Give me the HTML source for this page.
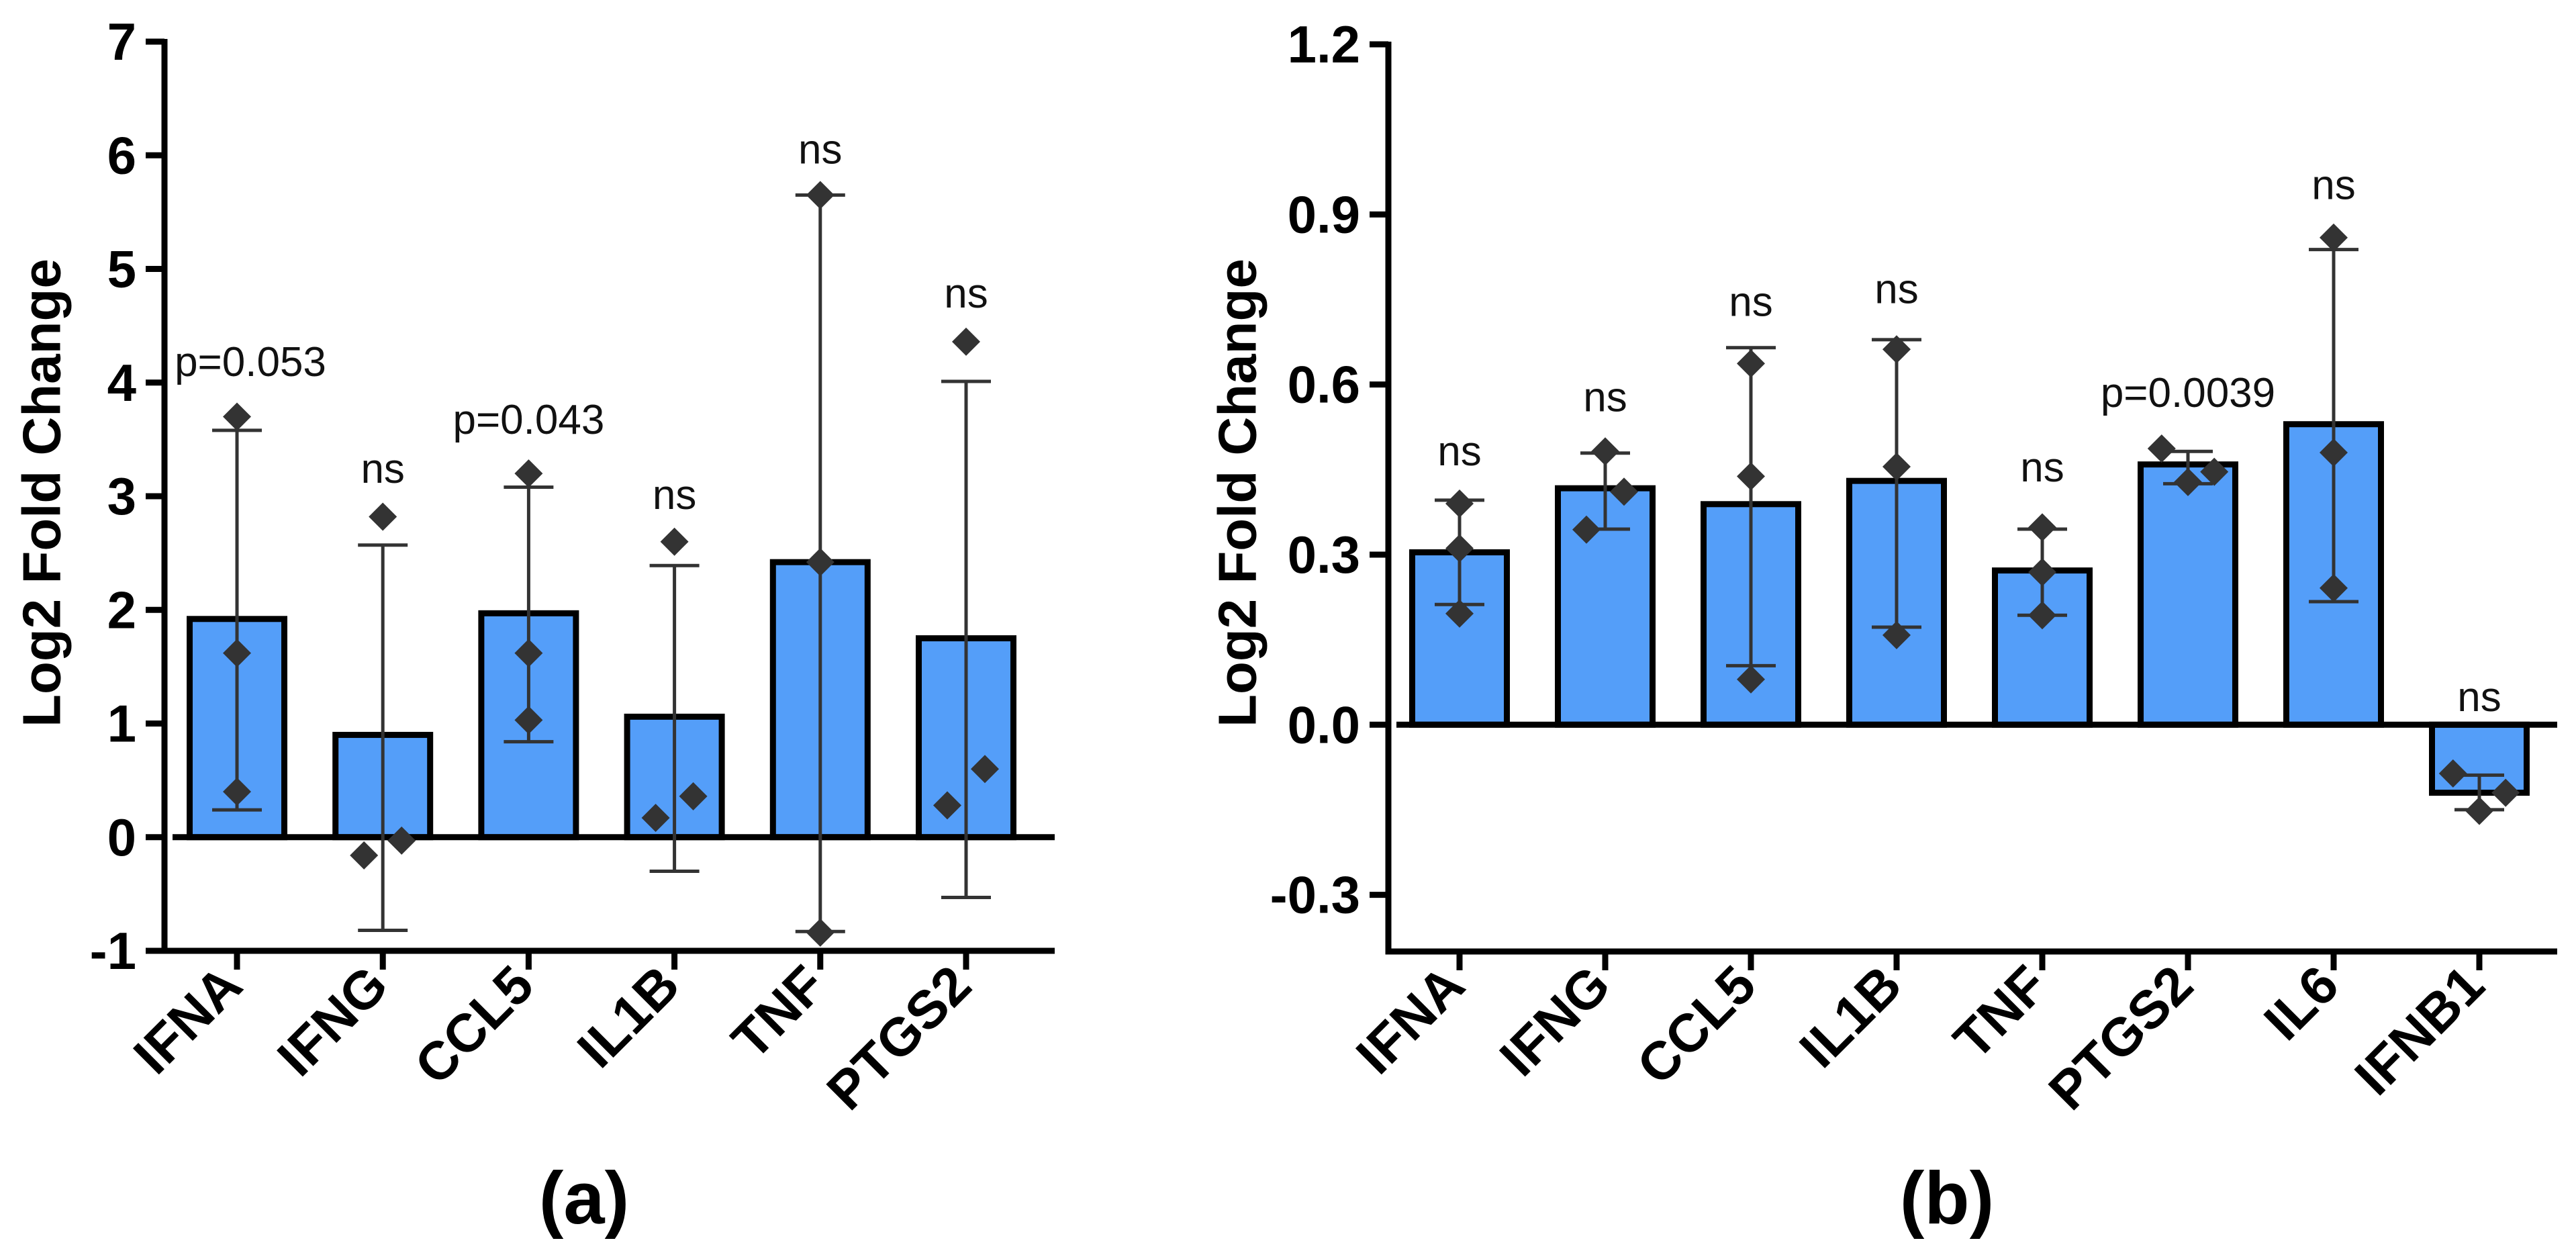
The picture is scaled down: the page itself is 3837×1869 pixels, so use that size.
<!DOCTYPE html>
<html><head><meta charset="utf-8"><style>
html,body{margin:0;padding:0;background:#fff;}
svg{display:block;}
text{font-family:"Liberation Sans",Arial,sans-serif;}
</style></head><body>
<svg id="fig" width="3837" height="1869" viewBox="0 0 3837 1869" xmlns="http://www.w3.org/2000/svg"></svg>
<script>
// ---- Panel (a) data ----
const catsA = ["IFNA","IFNG","CCL5","IL1B","TNF","PTGS2"];
const meansA = [1.92,0.90,1.97,1.06,2.42,1.75];
const errLoA = [0.24,-0.82,0.84,-0.30,-0.83,-0.53];
const errHiA = [3.58,2.57,3.08,2.39,5.65,4.01];
const ptsA = [[3.70,1.62,0.40],[2.82,-0.16,-0.03],[3.20,1.62,1.03],[2.60,0.17,0.36],[5.65,2.42,-0.84],[4.36,0.28,0.60]];
const ptOffA = [[0,0,0],[0,-1,1],[0,0,0],[0,-1,1],[0,0,0],[0,-1,1]];
const sigA = ["p=0.053","ns","p=0.043","ns","ns","ns"];
const sigYA = [4.18,3.24,3.67,3.01,6.05,4.78];
const sigDxA = [20,0,0,0,0,0];
const ticksA = [-1,0,1,2,3,4,5,6,7];
const tickLabA = ["-1","0","1","2","3","4","5","6","7"];

// ---- Panel (b) data ----
const catsB = ["IFNA","IFNG","CCL5","IL1B","TNF","PTGS2","IL6","IFNB1"];
const meansB = [0.304,0.417,0.389,0.430,0.272,0.459,0.530,-0.120];
const errLoB = [0.212,0.345,0.104,0.172,0.193,0.425,0.217,-0.150];
const errHiB = [0.396,0.479,0.665,0.679,0.345,0.482,0.838,-0.089];
const ptsB = [[0.39,0.311,0.196],[0.482,0.344,0.411],[0.637,0.438,0.08],[0.662,0.455,0.158],[0.348,0.269,0.193],[0.487,0.428,0.446],[0.859,0.48,0.241],[-0.086,-0.152,-0.12]];
const ptOffB = [[0,0,0],[0,-1,1],[0,0,0],[0,0,0],[0,0,0],[-1.4,0,1.4],[0,0,0],[-1.4,0,1.4]];
const sigB = ["ns","ns","ns","ns","ns","p=0.0039","ns","ns"];
const sigYB = [0.482,0.577,0.745,0.768,0.453,0.585,0.951,0.048];
const sigDxB = [0,0,0,0,0,0,0,0];
const ticksB = [-0.3,0,0.3,0.6,0.9,1.2];
const tickLabB = ["-0.3","0.0","0.3","0.6","0.9","1.2"];

const NS = "http://www.w3.org/2000/svg";
const svg = document.getElementById("fig");
function mk(tag, attrs, parent){
  const e = document.createElementNS(NS, tag);
  for (const k in attrs) e.setAttribute(k, attrs[k]);
  (parent||svg).appendChild(e);
  return e;
}

function panel(cfg){
  const g = mk("g",{});
  
  
  const y = v => cfg.yTop + (cfg.vTop - v) * (cfg.yBot - cfg.yTop) / (cfg.vTop - cfg.vBot);
  const x = i => cfg.x0 + i * cfg.step;
  const bw = 141;
  cfg.cats.forEach((c,i)=>{
    const y0 = y(0), y1 = y(cfg.means[i]);
    const r = mk("rect",{x:x(i)-bw/2, y:Math.min(y0,y1), width:bw, height:Math.abs(y1-y0), fill:"#549ef9", stroke:"#000", "stroke-width":9}, g);
    
    
  });
  const zl = mk("line",{x1:cfg.axX+12, x2:cfg.xEnd, y1:y(0), y2:y(0), stroke:"#000", "stroke-width":9}, g);
  
  
  cfg.cats.forEach((c,i)=>{
    const eg = mk("g",{stroke:"#333","stroke-width":5}, g);
    
    
    mk("line",{x1:x(i),x2:x(i),y1:y(cfg.lo[i]),y2:y(cfg.hi[i])}, eg);
    mk("line",{x1:x(i)-37,x2:x(i)+37,y1:y(cfg.lo[i]),y2:y(cfg.lo[i])}, eg);
    mk("line",{x1:x(i)-37,x2:x(i)+37,y1:y(cfg.hi[i]),y2:y(cfg.hi[i])}, eg);
  });
  cfg.cats.forEach((c,i)=>{
    cfg.pts[i].forEach((v,j)=>{
      const px = x(i) + cfg.off[i][j]*28, py = y(v), h = 21;
      const p = mk("polygon",{points:`${px},${py-h} ${px+h},${py} ${px},${py+h} ${px-h},${py}`, fill:"#333"}, g);
      
      
    });
  });
  cfg.cats.forEach((c,i)=>{
    const t = mk("text",{x:x(i)+cfg.sigDx[i], y:y(cfg.sigY[i]), "text-anchor":"middle", "dominant-baseline":"central", "font-size":62, fill:"#111"}, g);
    t.textContent = cfg.sig[i];
    
    
  });
  const ax = mk("path",{d:`M${cfg.axX},${cfg.yTop-4} V${cfg.yBot} H${cfg.xEnd}`, fill:"none", stroke:"#000", "stroke-width":9}, g);
  
  
  cfg.ticks.forEach((v,k)=>{
    mk("line",{x1:cfg.axX-28,x2:cfg.axX,y1:y(v),y2:y(v),stroke:"#000","stroke-width":9}, g);
    const t = mk("text",{x:cfg.axX-42, y:y(v), "text-anchor":"end", "dominant-baseline":"central", "font-size":78, "font-weight":"bold"}, g);
    t.textContent = cfg.tickLab[k];
    
    
  });
  cfg.cats.forEach((c,i)=>{
    mk("line",{x1:x(i),x2:x(i),y1:cfg.yBot,y2:cfg.yBot+28,stroke:"#000","stroke-width":9}, g);
    const t = mk("text",{x:x(i)+12, y:1472, "text-anchor":"end", "font-size":80, "font-weight":"bold", transform:`rotate(-45 ${x(i)+12} 1472)`}, g);
    t.textContent = c;
    
    
  });
  const yt = mk("text",{x:cfg.titleX, y:734, "text-anchor":"middle", "dominant-baseline":"central", "font-size":80, "font-weight":"bold", transform:`rotate(-90 ${cfg.titleX} 734)`}, g);
  yt.textContent = "Log2 Fold Change";
  
  
  const pl = mk("text",{x:cfg.labX, y:1822, "text-anchor":"middle", "font-size":110, "font-weight":"bold"}, g);
  pl.textContent = cfg.label;
  
  
}

panel({name:"chart-a", cats:catsA, means:meansA, lo:errLoA, hi:errHiA, pts:ptsA, off:ptOffA, sig:sigA, sigY:sigYA, sigDx:sigDxA,
  ticks:ticksA, tickLab:tickLabA, vTop:7, vBot:-1, yTop:62, yBot:1416, x0:353, step:217.2, axX:245, xEnd:1571,
  titleX:62, labX:870, label:"(a)"});
panel({name:"chart-b", cats:catsB, means:meansB, lo:errLoB, hi:errHiB, pts:ptsB, off:ptOffB, sig:sigB, sigY:sigYB, sigDx:sigDxB,
  ticks:ticksB, tickLab:tickLabB, vTop:1.2, vBot:-0.4, yTop:66, yBot:1417, x0:2174, step:217, axX:2068, xEnd:3809,
  titleX:1843, labX:2900, label:"(b)"});
</script>
</body></html>
